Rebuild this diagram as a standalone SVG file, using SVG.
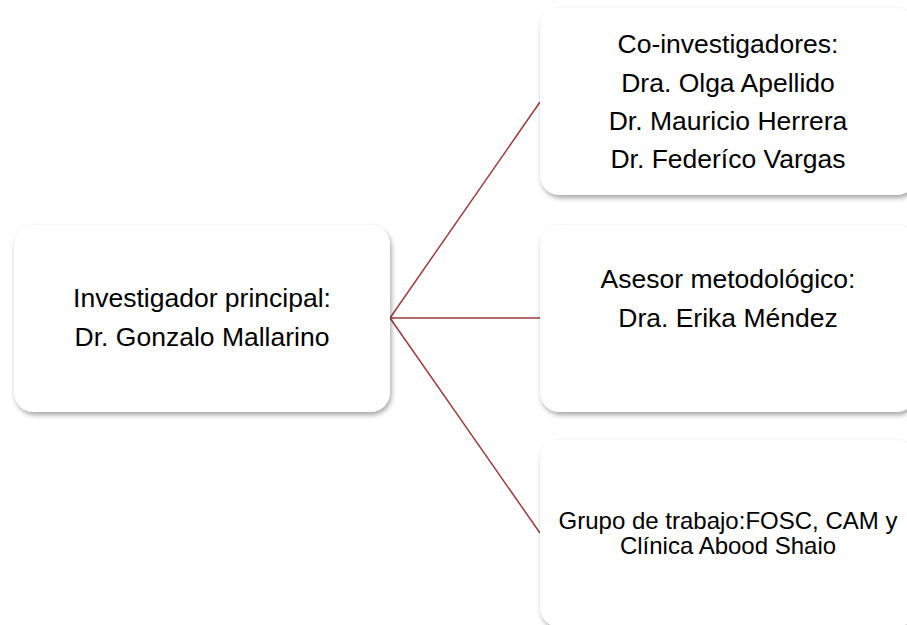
<svg xmlns="http://www.w3.org/2000/svg" width="907" height="625" viewBox="0 0 907 625">
<style>
.box{fill:#fff;filter:url(#sh)}
.t{font-family:"Liberation Sans",Arial,sans-serif;font-size:26.5px;fill:#000;text-anchor:middle}
.s{font-size:24px}
.c{stroke:#9b3b3b;stroke-width:1.5;fill:none}
</style>
<defs>
<filter id="sh" x="-10%" y="-10%" width="125%" height="130%">
<feDropShadow dx="1.5" dy="3" stdDeviation="2.5" flood-color="#000" flood-opacity="0.35"/>
</filter>
</defs>
<rect width="907" height="625" fill="#fff"/>
<g id="connectors">
<line class="c" x1="390" y1="318" x2="540" y2="102"/>
<line class="c" x1="390" y1="318" x2="540" y2="318"/>
<line class="c" x1="390" y1="318" x2="540" y2="533"/>
</g>
<g id="n-principal">
<rect class="box" x="14" y="225" width="376" height="187" rx="20"/>
<text class="t" x="202" y="307">Investigador principal:</text>
<text class="t" x="202" y="346">Dr. Gonzalo Mallarino</text>
</g>
<g id="n-coinvestigadores">
<rect class="box" x="540" y="8" width="376" height="187" rx="20"/>
<text class="t" x="728" y="53">Co-investigadores:</text>
<text class="t" x="728" y="92">Dra. Olga Apellido</text>
<text class="t" x="728" y="130">Dr. Mauricio Herrera</text>
<text class="t" x="728" y="168">Dr. Federíco Vargas</text>
</g>
<g id="n-asesor">
<rect class="box" x="540" y="225" width="376" height="187" rx="20"/>
<text class="t" x="728" y="288">Asesor metodológico:</text>
<text class="t" x="728" y="327">Dra. Erika Méndez</text>
</g>
<g id="n-grupo">
<rect class="box" x="540" y="440" width="376" height="187" rx="20"/>
<text class="t s" x="728" y="529">Grupo de trabajo:FOSC, CAM y</text>
<text class="t s" x="728" y="554">Clínica Abood Shaio</text>
</g>
</svg>
